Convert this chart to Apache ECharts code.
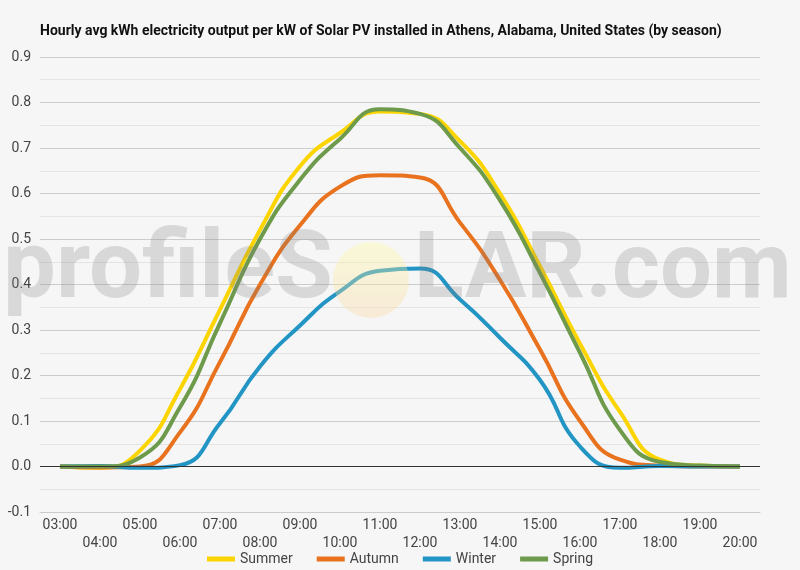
<!DOCTYPE html>
<html>
<head lang="en">
    <meta charset="UTF-8">
    <title>Athens, Alabama solar PV output by season</title>
    <script type="text/javascript" src="https://cdn.jsdelivr.net/npm/echarts@6/dist/echarts.min.js"></script>
</head>
<body style="margin:0;background:#f6f6f6;">
<div id="main" style="width:800px;height:570px;"></div>
<script type="text/javascript">
    // hours shown on the x axis
    var hours = ['03:00','04:00','05:00','06:00','07:00','08:00','09:00','10:00','11:00',
                 '12:00','13:00','14:00','15:00','16:00','17:00','18:00','19:00','20:00'];

    // kWh per kW
    var summer = [0.0, -0.003, 0.035, 0.17, 0.345, 0.52, 0.66, 0.733, 0.78, 0.775, 0.715, 0.60, 0.44, 0.27, 0.12, 0.015, 0.002, 0.0];
    var autumn = [0.0, -0.002, 0.0, 0.075, 0.23, 0.40, 0.53, 0.615, 0.64, 0.635, 0.536, 0.41, 0.257, 0.10, 0.015, 0.002, 0.0, 0.0];
    var winter = [0.0, 0.001, -0.003, 0.003, 0.095, 0.22, 0.31, 0.385, 0.43, 0.435, 0.367, 0.283, 0.19, 0.044, -0.003, 0.001, 0.0, 0.0];
    var spring = [0.0, 0.0, 0.02, 0.13, 0.315, 0.50, 0.63, 0.72, 0.785, 0.775, 0.70, 0.585, 0.425, 0.25, 0.08, 0.01, 0.002, 0.0];

    var seasonNames = ['Summer', 'Autumn', 'Winter', 'Spring'];
    var seasonColors = ['#fcd500', '#e8721e', '#2295c4', '#6d9a4b'];
    var seasonData = [summer, autumn, winter, spring];

    var myChart = echarts.init(document.getElementById('main'));

    var series = seasonNames.map(function (name, i) {
        var s = {
            name: name,
            type: 'line',
            data: seasonData[i],
            smooth: 0.5,
            showSymbol: false,
            symbol: 'none',
            lineStyle: { width: 4, color: seasonColors[i] },
            itemStyle: { color: seasonColors[i] }
        };
        if (i === 0) {
            // black base line at zero
            s.markLine = {
                silent: true,
                symbol: 'none',
                label: { show: false },
                lineStyle: { color: '#333', width: 1, type: 'solid' },
                data: [{ yAxis: 0 }]
            };
        }
        return s;
    });

    var option = {
        backgroundColor: '#f6f6f6',
        textStyle: { fontFamily: 'Roboto' },
        title: {
            text: 'Hourly avg kWh electricity output per kW of Solar PV installed in Athens, Alabama, United States (by season)',
            left: 35,
            top: 19,
            textStyle: { fontSize: 14, fontWeight: 'bold', color: '#111', fontFamily: 'Roboto' }
        },
        legend: {
            data: seasonNames,
            bottom: 4,
            padding: 0,
            left: 'center',
            icon: 'rect',
            itemWidth: 28,
            itemHeight: 5,
            itemGap: 24,
            textStyle: { fontSize: 14, color: '#444' }
        },
        grid: { left: 40, right: 40, top: 57, bottom: 58 },
        xAxis: {
            type: 'category',
            data: hours,
            boundaryGap: true,
            axisLine: { onZero: false, lineStyle: { color: '#ccc' } },
            axisTick: { show: false },
            axisLabel: {
                interval: 0,
                fontSize: 14,
                color: '#444',
                margin: 4,
                lineHeight: 18,
                formatter: function (v, idx) { return idx % 2 ? '\n' + v : v; }
            }
        },
        yAxis: {
            type: 'value',
            min: -0.1,
            max: 0.9,
            interval: 0.1,
            axisLine: { show: false },
            axisTick: { show: false },
            axisLabel: {
                fontSize: 14,
                color: '#444',
                margin: 9,
                formatter: function (v) { return v.toFixed(1); }
            },
            splitLine: { lineStyle: { color: '#cccccc' } },
            minorTick: { show: false, splitNumber: 2 },
            minorSplitLine: { show: true, lineStyle: { color: '#e4e4e4' } }
        },
        graphic: [
            {
                type: 'circle',
                z: 100,
                silent: true,
                shape: { cx: 371, cy: 280, r: 38 },
                style: {
                    fill: new echarts.graphic.LinearGradient(0, 0, 0, 1, [
                        { offset: 0, color: 'rgba(255,252,165,0.38)' },
                        { offset: 1, color: 'rgba(250,210,150,0.32)' }
                    ])
                }
            },
            {
                type: 'text',
                z: 100,
                silent: true,
                left: 3,
                top: 226,
                style: {
                    text: 'profileS',
                    fontSize: 94,
                    fontWeight: 'bold',
                    fontFamily: 'Roboto',
                    fill: 'rgba(128,128,128,0.25)'
                }
            },
            {
                type: 'text',
                z: 100,
                silent: true,
                left: 414,
                top: 228,
                style: {
                    text: 'LAR.com',
                    fontSize: 92,
                    fontWeight: 'bold',
                    fontFamily: 'Roboto',
                    fill: 'rgba(128,128,128,0.25)'
                }
            }
        ],
        series: series
    };
    myChart.setOption(option);
</script>
</body>
</html>
